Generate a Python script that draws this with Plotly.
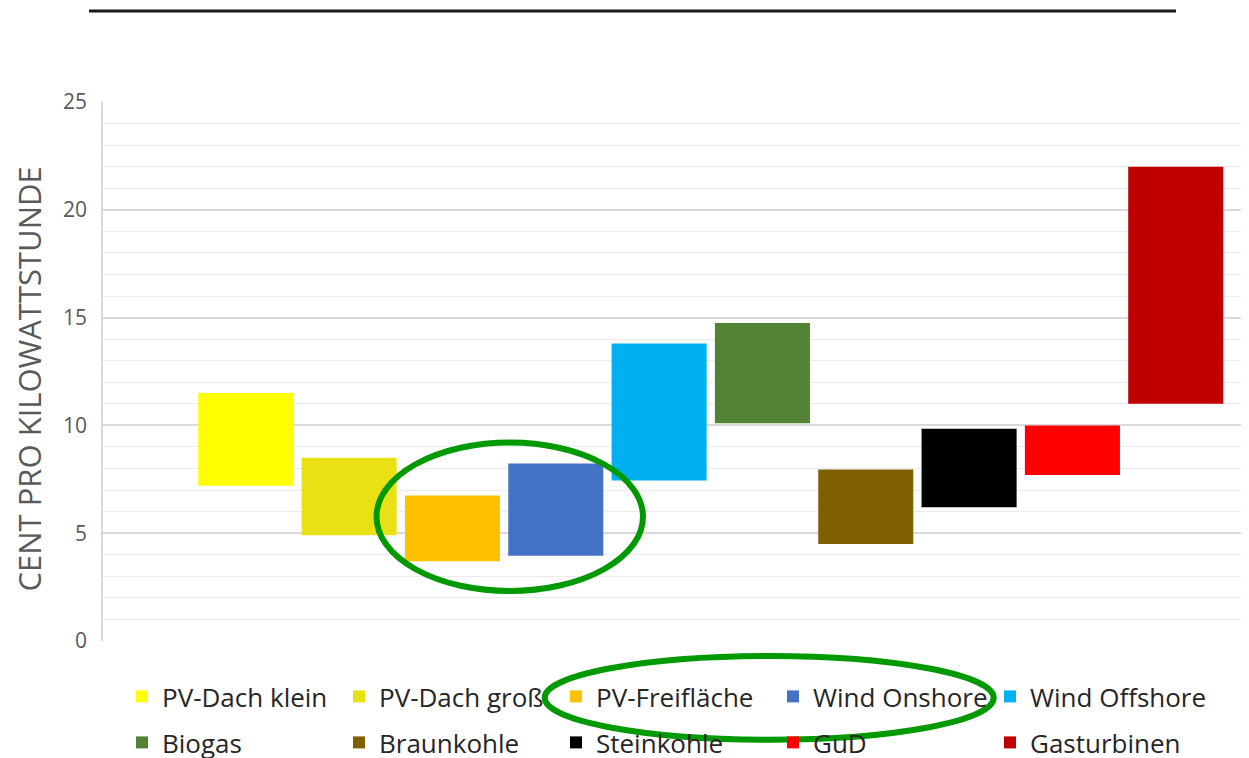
import plotly.graph_objects as go

categories = ["PV-Dach klein", "PV-Dach groß", "PV-Freifläche", "Wind Onshore", "Wind Offshore",
              "Biogas", "Braunkohle", "Steinkohle", "GuD", "Gasturbinen"]
low_values = [7.2, 4.9, 3.7, 3.95, 7.45, 10.1, 4.5, 6.2, 7.7, 11.0]
high_values = [11.5, 8.5, 6.75, 8.23, 13.8, 14.75, 7.95, 9.85, 10.0, 22.0]
colors = ["#FFFF00", "#EAE114", "#FFC000", "#4472C4", "#00B0F0",
          "#548235", "#7F6000", "#000000", "#FF0000", "#C00000"]
y_tick_values = [0, 5, 10, 15, 20, 25]
y_title = "CENT PRO KILOWATTSTUNDE"

# page body has an 8px margin; compensate so the figure fills the 1249x758 window
OFF = 8
W, H = 1249 - OFF, 758 - OFF
ML, MR, MT = 103 - OFF, 0, 102 - OFF
MB = H - (641 - OFF)
PW, PH = W - ML - MR, H - MT - MB

def px(x):
    return (x - OFF - ML) / PW

def py(y):
    return (H - MB - (y - OFF)) / PH

fig = go.Figure()
for i, (name, lo, hi, col) in enumerate(zip(categories, low_values, high_values, colors)):
    fig.add_trace(go.Bar(
        x=[i], y=[hi - lo], base=[lo], name=name,
        marker=dict(color=col, line=dict(width=0)),
        width=0.92,
        legend="legend" if i < 5 else "legend2",
        hoverinfo="skip",
    ))

legend_common = dict(
    orientation="h", xanchor="left", yanchor="middle",
    bgcolor="rgba(0,0,0,0)", borderwidth=0,
    font=dict(family="Open Sans", size=26, color="#262626"),
    entrywidth=172, entrywidthmode="pixels",
    itemclick=False, itemdoubleclick=False,
    traceorder="normal",
)

fig.update_layout(
    width=W, height=H,
    margin=dict(l=ML, r=MR, t=MT, b=MB, autoexpand=False),
    paper_bgcolor="white", plot_bgcolor="white",
    barmode="overlay",
    showlegend=True,
    legend=dict(x=px(122), y=py(696.5), **legend_common),
    legend2=dict(x=px(122), y=py(742.5), **legend_common),
    xaxis=dict(range=[-1.382, 9.709], visible=False, showgrid=False, zeroline=False, fixedrange=True),
    yaxis=dict(
        range=[0, 25], tickvals=y_tick_values, showgrid=True, gridcolor="#d9d9d9", gridwidth=1.5,
        zeroline=False, showline=True, linecolor="#d9d9d9", linewidth=1.5,
        tickfont=dict(family="Open Sans", size=21, color="#595959"),
        ticks="", ticklabelstandoff=10,
        minor=dict(dtick=1, showgrid=True, gridcolor="#ebebeb", gridwidth=1),
        fixedrange=True,
    ),
    annotations=[
        dict(text=y_title, textangle=-90, xref="paper", yref="paper",
             x=px(28), y=py(379.5), xanchor="center", yanchor="middle", showarrow=False,
             font=dict(family="Open Sans", size=31, color="#595959")),
    ],
    shapes=[
        dict(type="line", xref="paper", yref="paper", x0=px(89), x1=px(1176), y0=py(11), y1=py(11),
             line=dict(color="#1a1a1a", width=3)),
        dict(type="circle", xref="paper", yref="paper", x0=px(376.5), x1=px(643), y0=py(591), y1=py(442.5),
             line=dict(color="#009A00", width=6), layer="above"),
        dict(type="circle", xref="paper", yref="paper", x0=px(544.7), x1=px(993.7), y0=py(739.7), y1=py(656),
             line=dict(color="#009A00", width=6), layer="above"),
    ],
)

fig.write_html("out.html")
